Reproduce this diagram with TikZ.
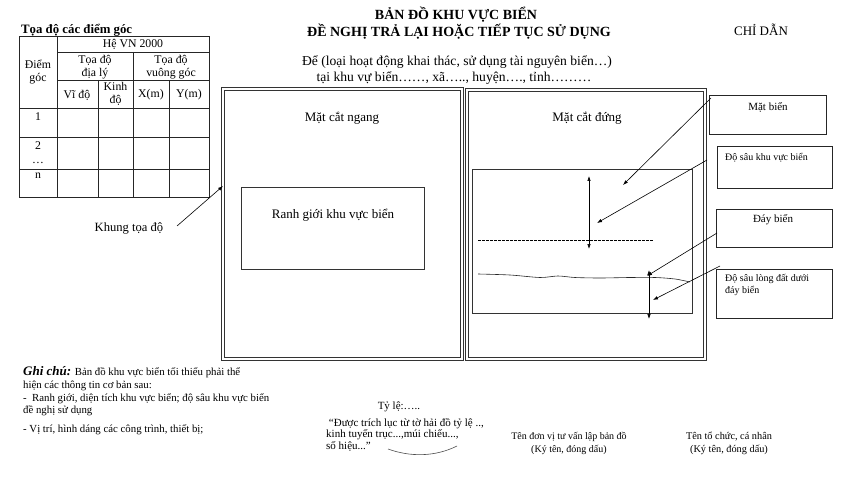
\documentclass[tikz,border=0pt]{standalone}
\usepackage{fontspec}
\setmainfont{Liberation Serif}
\usetikzlibrary{arrows.meta,calc}
\begin{document}
\begin{tikzpicture}[x=1pt,y=-1pt,
  txt/.style={inner sep=0pt, align=center, font=\fontsize{13}{15}\selectfont},
  tabtxt/.style={inner sep=0pt, align=center, font=\fontsize{11.8}{12.5}\selectfont},
  small/.style={inner sep=0pt, align=left, font=\fontsize{10}{12.5}\selectfont},
  note/.style={inner sep=0pt, anchor=base west, font=\fontsize{10.8}{12}\selectfont},
  frame/.style={draw=black!80, double=white, double distance=1.6pt, line width=0.9pt},
  inner/.style={draw=black!80, line width=0.6pt},
  lbox/.style={draw=black!85, line width=0.7pt, anchor=north west, inner sep=0pt},
  ptr/.style={draw=black, line width=0.6pt, -{Latex[length=5pt,width=3.5pt]}},
  dbl/.style={draw=black, line width=0.6pt, {Latex[length=5pt,width=3.5pt]}-{Latex[length=5pt,width=3.5pt]}},
  grid/.style={draw=black!85, line width=0.6pt}
]
\useasboundingbox (0,0) rectangle (848,481);

% ---------- titles ----------
\node[txt, font=\fontsize{14}{16}\bfseries\selectfont] (t1) at (456,15) {BẢN ĐỒ KHU VỰC BIỂN};
\node[txt, font=\fontsize{14}{16}\bfseries\selectfont] (t2) at (459,32) {ĐỀ NGHỊ TRẢ LẠI HOẶC TIẾP TỤC SỬ DỤNG};
\node[txt, font=\fontsize{13.6}{15}\selectfont] (t3) at (457,62) {Để (loại hoạt động khai thác, sử dụng tài nguyên biển…)};
\node[txt, font=\fontsize{13.6}{15}\selectfont] (t4) at (454,78) {tại khu vự biển……, xã….., huyện…., tỉnh………};
\node[txt, font=\fontsize{13}{15}\selectfont] (cd) at (761,30) {CHỈ DẪN};

% ---------- table ----------
\node[inner sep=0pt, anchor=base west, font=\fontsize{12.8}{14}\bfseries\selectfont] (tt) at (21,34) {Tọa độ các điểm góc};
\draw[grid] (19,36) rectangle (209,197);
\draw[grid] (57,52) -- (209,52);
\draw[grid] (57,80) -- (209,80);
\draw[grid] (19,108) -- (209,108);
\draw[grid] (19,137) -- (209,137);
\draw[grid] (19,169) -- (209,169);
\draw[grid] (57,36) -- (57,197);
\draw[grid] (98,80) -- (98,197);
\draw[grid] (133,52) -- (133,197);
\draw[grid] (169,80) -- (169,197);
\node[tabtxt] (h1) at (133,44) {Hệ VN 2000};
\node[tabtxt] (h2) at (38,72) {Điểm\\góc};
\node[tabtxt] (h3) at (95,67) {Tọa độ\\địa lý};
\node[tabtxt] (h4) at (171,67) {Tọa độ\\vuông góc};
\node[tabtxt] (h5) at (77,95) {Vĩ độ};
\node[tabtxt] (h6) at (115.5,94) {Kinh\\độ};
\node[tabtxt] (h7) at (151,95) {X(m)};
\node[tabtxt] (h8) at (189,95) {Y(m)};
\node[tabtxt] (r1) at (38,117) {1};
\node[tabtxt] (r2) at (38,146) {2};
\node[tabtxt] (r2b) at (38,163) {…};
\node[tabtxt] (r3) at (38,176) {n};

% ---------- left frame ----------
\draw[frame] (223,89) rectangle (462,359);
\coordinate (lfw) at (223,186);
\node[txt] (mcn) at (342,118) {Mặt cắt ngang};
\draw[inner] (241,187) rectangle (424,269);
\node[txt] (rg) at (333,215) {Ranh giới khu vực biển};
\node[txt, font=\fontsize{12.6}{14}\selectfont] (kt) at (129,228) {Khung tọa độ};
\coordinate (ktend) at (177,226);
\draw[ptr] (ktend) -- (lfw);

% ---------- right frame ----------
\draw[frame] (467,90) rectangle (705,359);
\node[txt] (mcd) at (587,118) {Mặt cắt đứng};
\draw[inner] (472,169) rectangle (692,313);
\draw[draw=black, line width=0.9pt, dash pattern=on 2.6pt off 1.4pt] (478,240) -- (653,240);
\draw[black!85, line width=0.6pt] plot[smooth] coordinates {(478,274) (510,275) (540,277.5) (558,276) (575,277.5) (600,278) (630,277.5) (655,277.5) (675,279) (690,282)};
\coordinate (a1t) at (589,176);
\coordinate (a1b) at (589,249);
\draw[dbl] (a1t) -- (a1b);
\coordinate (a2t) at (649,270);
\coordinate (a2b) at (649,319);
\draw[dbl] (a2t) -- (a2b);

% ---------- legend boxes ----------
\node[lbox, minimum width=117pt, minimum height=39pt] (mb) at (709,95) {};
\node[txt, font=\fontsize{11}{12}\selectfont] (mbt) at (768,107) {Mặt biển};
\node[lbox, minimum width=115pt, minimum height=42pt] (ds) at (717,146) {};
\node[small, anchor=west] (dst) at (725,158) {Độ sâu khu vực biển};
\node[lbox, minimum width=116pt, minimum height=38pt] (db) at (716,209) {};
\node[txt, font=\fontsize{11}{12}\selectfont] (dbt) at (773,220) {Đáy biển};
\node[lbox, minimum width=116pt, minimum height=49pt] (dl) at (716,269) {};
\node[small, anchor=north west] (dlt) at (725,274) {Độ sâu lòng đất dưới\\đáy biển};

\coordinate (p1) at (623,185);
\coordinate (p2) at (597,223);
\coordinate (p3) at (647,276);
\coordinate (p4) at (653,300);
\draw[ptr] ($(mb.north west)+(2,3)$) -- (p1);
\draw[ptr] ($(ds.north west)+(-10,14)$) -- (p2);
\draw[ptr] ($(db.north west)+(1,24)$) -- (p3);
\draw[ptr] ($(dl.north west)+(4,-3)$) -- (p4);

% ---------- notes ----------
\node[note] (g1) at (23,375) {{\fontsize{13}{14}\bfseries\itshape Ghi chú:} Bản đồ khu vực biển tối thiểu phải thể};
\node[note] (g2) at (23,388) {hiện các thông tin cơ bản sau:};
\node[note] (g3) at (23,401) {-\ \ Ranh giới, diện tích khu vực biển; độ sâu khu vực biển};
\node[note] (g4) at (23,413) {đề nghị sử dụng};
\node[note] (g5) at (23,432) {- Vị trí, hình dáng các công trình, thiết bị;};

\node[txt, font=\fontsize{11}{12}\selectfont] (tl) at (399,407) {Tỷ lệ:…..};
\node[inner sep=0pt, anchor=north west, align=left, font=\fontsize{11}{11.5}\selectfont] (trich) at (326,418) {\ “Được trích lục từ tờ hải đồ tỷ lệ ..,\\kinh tuyến trục...,múi chiếu...,\\số hiệu...”};
\draw[black!70, line width=0.6pt] (388,449) .. controls (410,457) and (435,457) .. (457,446);
\node[txt, font=\fontsize{10}{13}\selectfont] (dv) at (569,443) {Tên đơn vị tư vấn lập bản đồ\\(Ký tên, đóng dấu)};
\node[txt, font=\fontsize{10.3}{13}\selectfont] (tc) at (729,443) {Tên tổ chức, cá nhân\\(Ký tên, đóng dấu)};
\end{tikzpicture}
\end{document}
